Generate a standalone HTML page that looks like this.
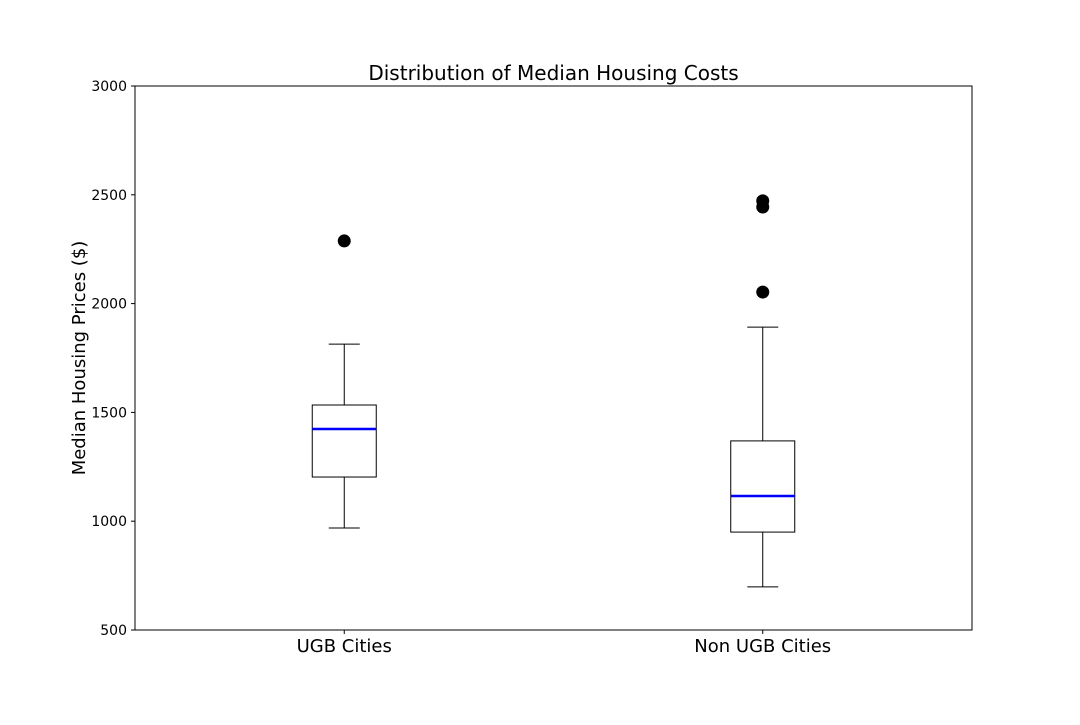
<!DOCTYPE html>
<html><head><meta charset="utf-8"><style>
body{margin:0;background:#fff;}
svg text{font-family:"DejaVu Sans","Liberation Sans",sans-serif;}
</style></head><body>
<svg id="chart" width="1080" height="720" xmlns="http://www.w3.org/2000/svg"></svg>
<script>
const categories = ["UGB Cities", "Non UGB Cities"];
const whiskerLow = [969, 698];
const q1 = [1203, 950];
const medians = [1424, 1116];
const q3 = [1534, 1369];
const whiskerHigh = [1814, 1892];
const outliers = [[2288], [2472, 2444, 2053]];
const yTicks = [500, 1000, 1500, 2000, 2500, 3000];

const svg = document.getElementById('chart');
const NS = 'http://www.w3.org/2000/svg';
const L = 135, R = 972, T = 86, B = 630;
const yMin = 500, yMax = 3000;
function y(v){ return B - (v - yMin) / (yMax - yMin) * (B - T); }
function x(i){ return L + (R - L) * (i + 0.5) / categories.length; }
function mk(tag, attrs, name){
  const e = document.createElementNS(NS, tag);
  for (const k in attrs) e.setAttribute(k, attrs[k]);
  
  
  svg.appendChild(e);
  return e;
}
mk('rect', {x:L, y:T, width:R-L, height:B-T, fill:'none', stroke:'#000', 'stroke-width':1}, 'plot-frame');
const title = mk('text', {x:(L+R)/2, y:80, 'text-anchor':'middle', 'font-size':20}, 'chart-title');
title.textContent = 'Distribution of Median Housing Costs';
const yt = mk('text', {x:0, y:0, 'text-anchor':'middle', 'font-size':18, transform:'translate(85,358) rotate(-90)'}, 'y-axis-title');
yt.textContent = 'Median Housing Prices ($)';
yTicks.forEach(v => {
  mk('line', {x1:L-4, x2:L, y1:y(v), y2:y(v), stroke:'#000'}, 'y-tick');
  const t = mk('text', {x:L-8, y:y(v)+5, 'text-anchor':'end', 'font-size':14}, 'y-tick-label');
  t.textContent = v;
});
const bw = 64, cw = 31;
categories.forEach((c, i) => {
  const cx = x(i);
  mk('line', {x1:cx, x2:cx, y1:B, y2:B+4, stroke:'#000'}, 'x-tick');
  const t = mk('text', {x:cx, y:652, 'text-anchor':'middle', 'font-size':18}, 'x-tick-label');
  t.textContent = c;
  mk('line', {x1:cx, x2:cx, y1:y(whiskerHigh[i]), y2:y(q3[i]), stroke:'#000'}, 'upper-whisker');
  mk('line', {x1:cx, x2:cx, y1:y(q1[i]), y2:y(whiskerLow[i]), stroke:'#000'}, 'lower-whisker');
  mk('line', {x1:cx-cw/2, x2:cx+cw/2, y1:y(whiskerHigh[i]), y2:y(whiskerHigh[i]), stroke:'#000'}, 'upper-cap');
  mk('line', {x1:cx-cw/2, x2:cx+cw/2, y1:y(whiskerLow[i]), y2:y(whiskerLow[i]), stroke:'#000'}, 'lower-cap');
  mk('rect', {x:cx-bw/2, y:y(q3[i]), width:bw, height:y(q1[i])-y(q3[i]), fill:'none', stroke:'#000'}, 'box');
  mk('line', {x1:cx-bw/2, x2:cx+bw/2, y1:y(medians[i]), y2:y(medians[i]), stroke:'#0000ff', 'stroke-width':2.5}, 'median-line');
  outliers[i].forEach(o => mk('circle', {cx:cx, cy:y(o), r:6.5, fill:'#000'}, 'outlier-point'));
});
</script>
</body></html>
